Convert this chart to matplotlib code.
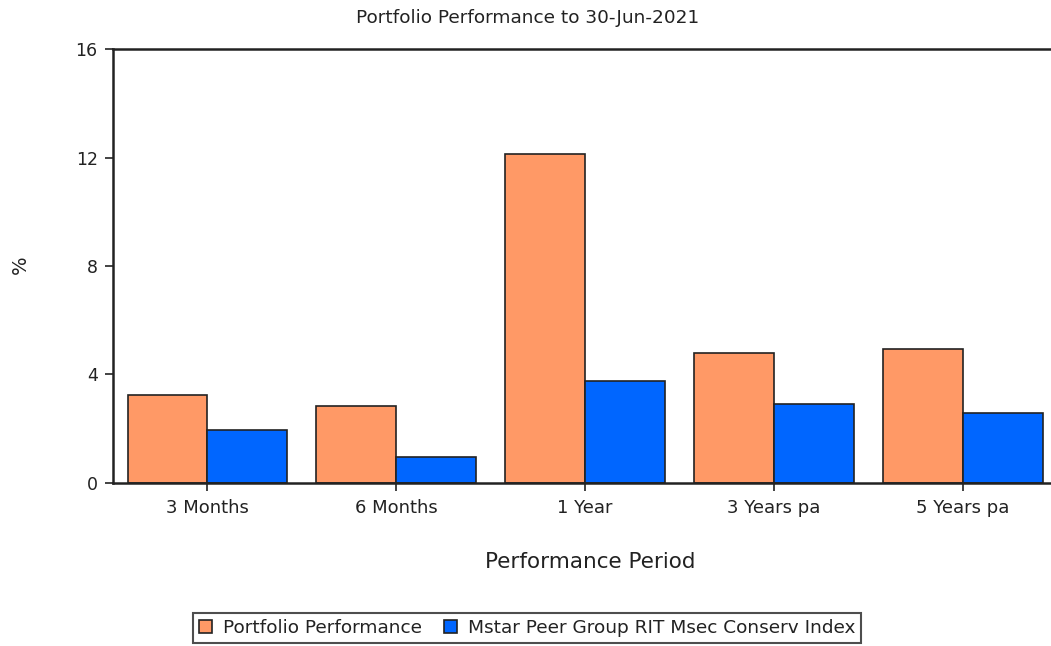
import matplotlib.pyplot as plt
import numpy as np

plt.rcParams['font.family'] = ['DejaVu Sans']

# Datos
periods = ["3 Months", "6 Months", "1 Year", "3 Years pa", "5 Years pa"]
portfolio = [3.24, 2.83, 12.13, 4.78, 4.92]
peer = [1.95, 0.94, 3.77, 2.89, 2.58]
series_names = ["Portfolio Performance", "Mstar Peer Group RIT Msec Conserv Index"]
y_ticks = [0, 4, 8, 12, 16]

fig = plt.figure(figsize=(10.51, 6.46), dpi=100)
ax = fig.add_axes([0.1075, 0.2528, 0.8987, 0.6709])

x = np.arange(len(periods))
w = 0.423
ax.bar(x - w / 2, portfolio, w, color="#FF9966", edgecolor="#222222", linewidth=1.2, label=series_names[0])
ax.bar(x + w / 2, peer, w, color="#0066FF", edgecolor="#222222", linewidth=1.2, label=series_names[1])

ax.set_xlim(-0.5, len(periods) - 0.5)
ax.set_ylim(0, 16)
ax.set_yticks(y_ticks)
ax.set_xticks(x)
ax.set_xticklabels(periods)
ax.tick_params(axis="both", labelsize=12.5, length=6, width=1.2, color="#222222", labelcolor="#222222")
ax.tick_params(axis="x", labelsize=13, pad=6)
ax.tick_params(axis="y", pad=5)
ax.spines["right"].set_visible(False)
for s in ["left", "top", "bottom"]:
    ax.spines[s].set_linewidth(1.8)
    ax.spines[s].set_color("#222222")

fig.text(528 / 1051, 1 - 18 / 646, "Portfolio Performance to 30-Jun-2021", ha="center", va="center",
         fontsize=13.3, color="#222222")
fig.text(20 / 1051, 1 - 265 / 646, "%", ha="center", va="center", rotation=90, fontsize=14, color="#222222")
fig.text(590 / 1051, 1 - 562 / 646, "Performance Period", ha="center", va="center", fontsize=15.5,
         color="#222222")

leg = fig.legend(loc="center", bbox_to_anchor=(527 / 1051, 1 - 628 / 646), ncol=2, fontsize=13.3,
                 frameon=True, fancybox=False, edgecolor="#222222", handlelength=0.7, handleheight=0.7,
                 handletextpad=0.6, columnspacing=1.2, borderpad=0.3)
leg.get_frame().set_linewidth(1.5)
for t in leg.get_texts():
    t.set_color("#222222")

plt.savefig("out.png", dpi=100)
